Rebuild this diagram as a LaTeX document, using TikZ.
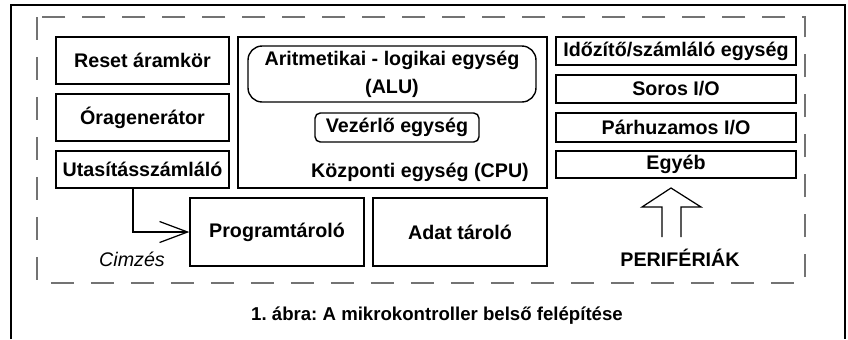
\documentclass[tikz,border=0pt]{standalone}
\usepackage{fontspec}
\setmainfont{Liberation Sans}
\frenchspacing
\usetikzlibrary{calc,arrows.meta}
\tikzset{
  blokk/.style={draw, line width=0.8pt, inner sep=0pt, font=\bfseries\fontsize{11.2}{16}\selectfont, align=center},
  kerekblokk/.style={blokk, rounded corners=8pt},
  kisblokk/.style={blokk, rounded corners=3pt},
  felirat/.style={font=\bfseries\fontsize{11.2}{16}\selectfont},
  szaggatott/.style={draw=black!55, line width=0.8pt, dash pattern=on 0.46cm off 0.34cm},
  nyil/.style={line width=0.7pt, -{Straight Barb[length=0.56cm, width=0.42cm]}}
}

\begin{document}
\begin{tikzpicture}[x=0.02cm, y=-0.02cm]
			%%%%% START %%%%%
			\useasboundingbox (0,0) rectangle (848,339);
			\draw[line width=1.2pt] (11,339) -- (11,5) -- (845,5) -- (845,339);
			\draw[szaggatott] (37,17) rectangle (805,283);
			
			% bal oszlop
			\node[blokk, minimum width=3.46cm, minimum height=0.94cm] (reset) at (142.5,60.5) {Reset áramkör};
			\node[blokk, minimum width=3.46cm, minimum height=0.94cm] (ora) at (142.5,117.5) {Óragenerátor};
			\node[blokk, minimum width=3.46cm, minimum height=0.74cm] (utas) at (142.5,169.5) {Utasításszámláló};
			
			% CPU
			\node[blokk, minimum width=6.18cm, minimum height=3.02cm] (cpu) at (392.5,112.5) {};
			\node[kerekblokk, minimum width=5.76cm, minimum height=1.12cm] (alu) at (392,74) {Aritmetikai - logikai egység\\(ALU)};
			\node[kisblokk, minimum width=3.28cm, minimum height=0.58cm] (vez) at (397,127.5) {Vezérlő egység};
			\node[felirat] (cpulabel) at (420,172) {Központi egység (CPU)};
			
			% tárolók
			\node[blokk, minimum width=3.48cm, minimum height=1.36cm] (prog) at (277,232) {Programtároló};
			\node[blokk, minimum width=3.48cm, minimum height=1.36cm] (adat) at (460,232) {Adat tároló};
			
			% perifériák
			\node[blokk, minimum width=4.8cm, minimum height=0.56cm] (idozito) at (676,51) {Időzítő/számláló egység};
			\node[blokk, minimum width=4.8cm, minimum height=0.56cm] (soros) at (676,89) {Soros I/O};
			\node[blokk, minimum width=4.8cm, minimum height=0.58cm] (parh) at (676,127.5) {Párhuzamos I/O};
			\node[blokk, minimum width=4.8cm, minimum height=0.54cm] (egyeb) at (676,164.5) {Egyéb};
			
			\coordinate (ptip) at (671,188);
			\draw[line width=0.7pt] (662,237) -- (662,207) -- (642,207) -- (ptip) -- (701,207) -- (681,207) -- (681,237);
			\node[felirat] (perif) at (680,258) {PERIFÉRIÁK};
			
			% címzés
			\draw[nyil] ($(utas.south)+(-9.5,0)$) |- (prog.west);
			\node[font=\itshape\fontsize{11.2}{14}\selectfont] (cimzes) at (132,259) {Cimzés};
			
			\node[font=\bfseries\fontsize{10.6}{14}\selectfont] (abra) at (437,316) {1. ábra: A mikrokontroller belső felépítése};
			%%%%% END %%%%%
\end{tikzpicture}
\end{document}
